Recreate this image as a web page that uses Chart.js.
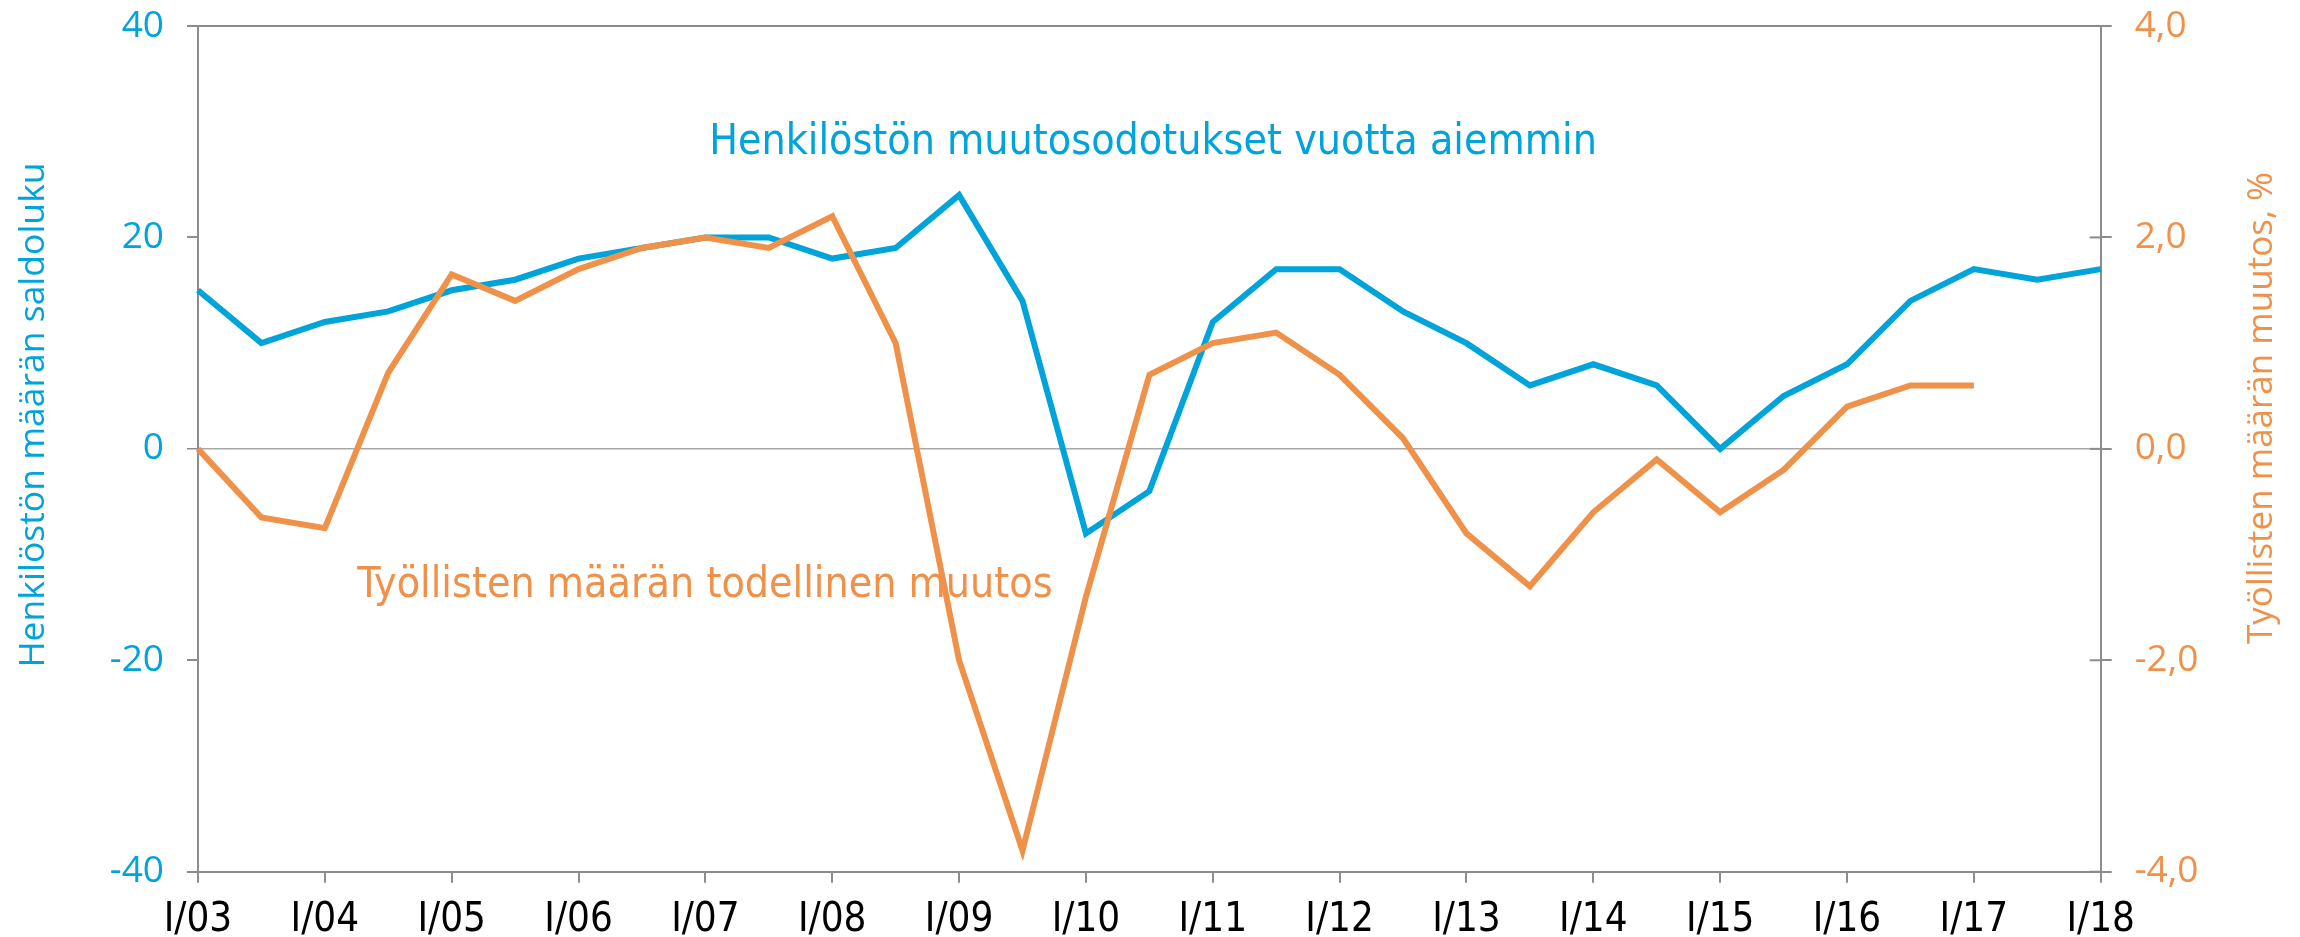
<!DOCTYPE html>
<html>
<head>
<meta charset="utf-8">
<script src="https://cdn.jsdelivr.net/npm/chart.js@4/dist/chart.umd.min.js"></script>
<style>
  html, body { margin: 0; padding: 0; background: #ffffff; }
  #wrap { width: 2300px; height: 937px; position: relative; }
  canvas { display: block; }
</style>
</head>
<body>
<div id="wrap"><canvas id="c" width="2300" height="937"></canvas></div>
<script>
// ---- data ----
const periods = [
  'I/03','II/03','I/04','II/04','I/05','II/05','I/06','II/06','I/07','II/07',
  'I/08','II/08','I/09','II/09','I/10','II/10','I/11','II/11','I/12','II/12',
  'I/13','II/13','I/14','II/14','I/15','II/15','I/16','II/16','I/17','II/17','I/18'
];
// Henkilöstön muutosodotukset vuotta aiemmin (saldoluku, left axis)
const expectations = [
  15, 10, 12, 13, 15, 16, 18, 19, 20, 20,
  18, 19, 24, 14, -8, -4, 12, 17, 17, 13,
  10, 6, 8, 6, 0, 5, 8, 14, 17, 16, 17
];
// Työllisten määrän todellinen muutos (%, right axis)
const actualChange = [
  0.0, -0.65, -0.75, 0.72, 1.65, 1.4, 1.7, 1.9, 2.0, 1.9,
  2.2, 1.0, -2.0, -3.8, -1.4, 0.7, 1.0, 1.1, 0.7, 0.1,
  -0.8, -1.3, -0.6, -0.1, -0.6, -0.2, 0.4, 0.6, 0.6, null, null
];
const leftTitle = 'Henkilöstön määrän saldoluku';
const rightTitle = 'Työllisten määrän muutos, %';
const blueLabel = 'Henkilöstön muutosodotukset vuotta aiemmin';
const orangeLabel = 'Työllisten määrän todellinen muutos';

// ---- styles ----
const BLUE = '#00A3DA';
const ORANGE = '#F0914A';
const AXIS = '#8C8C8C';
const ZERO = '#A8A8A8';

const overlay = {
  id: 'overlay',
  afterDatasetsDraw(chart) {
    const ctx = chart.ctx;
    const a = chart.chartArea;
    ctx.save();
    // inner part of right-axis ticks (they cross the axis)
    const yR = chart.scales.yR;
    ctx.strokeStyle = AXIS;
    ctx.lineWidth = 2;
    yR.ticks.forEach((t, i) => {
      const y = yR.getPixelForTick(i);
      ctx.beginPath();
      ctx.moveTo(a.right - 11, y);
      ctx.lineTo(a.right, y);
      ctx.stroke();
    });
    // annotations
    ctx.textAlign = 'center';
    ctx.textBaseline = 'alphabetic';
    ctx.font = '42.5px "DejaVu Sans Condensed", "DejaVu Sans", sans-serif';
    ctx.fillStyle = BLUE;
    ctx.fillText(blueLabel, 1153, 154);
    ctx.fillStyle = ORANGE;
    ctx.fillText(orangeLabel, 705, 597);
    // axis titles, both read bottom-to-top
    ctx.fillStyle = BLUE;
    ctx.font = '35.5px "Open Sans", sans-serif';
    ctx.save();
    ctx.translate(44, 415);
    ctx.rotate(-Math.PI / 2);
    ctx.fillText(leftTitle, 0, 0);
    ctx.restore();
    ctx.fillStyle = ORANGE;
    ctx.font = '35px "Open Sans", sans-serif';
    ctx.save();
    ctx.translate(2272, 408);
    ctx.rotate(-Math.PI / 2);
    ctx.fillText(rightTitle, 0, 0);
    ctx.restore();
    ctx.restore();
  }
};

new Chart(document.getElementById('c'), {
  type: 'line',
  data: {
    labels: periods,
    datasets: [
      {
        label: orangeLabel,
        data: actualChange,
        yAxisID: 'yR',
        borderColor: ORANGE,
        backgroundColor: ORANGE,
        borderWidth: 6,
        pointRadius: 0,
        tension: 0,
        spanGaps: false
      },
      {
        label: blueLabel,
        data: expectations,
        yAxisID: 'yL',
        borderColor: BLUE,
        backgroundColor: BLUE,
        borderWidth: 6,
        pointRadius: 0,
        tension: 0
      }
    ]
  },
  options: {
    responsive: false,
    animation: false,
    devicePixelRatio: 1,
    layout: { padding: { top: 26, bottom: 0, left: 0, right: 0 } },
    plugins: { legend: { display: false }, tooltip: { enabled: false } },
    elements: { line: { borderJoinStyle: 'miter', borderCapStyle: 'butt' } },
    scales: {
      x: {
        type: 'category',
        offset: false,
        border: { display: true, color: AXIS, width: 2 },
        grid: { drawOnChartArea: false, drawTicks: true, tickLength: 11, color: AXIS, tickColor: AXIS, lineWidth: 2 },
        ticks: {
          autoSkip: false,
          maxRotation: 0,
          padding: 14,
          color: '#000000',
          font: { family: '"DejaVu Sans Condensed", "DejaVu Sans", sans-serif', size: 40 },
          callback: function (v, i) { return i % 2 === 0 ? periods[i] : null; }
        },
        afterFit: function (s) { s.height = 65.3; s.paddingLeft = 0; s.paddingRight = 0; }
      },
      yL: {
        position: 'left',
        min: -40, max: 40,
        border: { display: true, color: AXIS, width: 2 },
        grid: {
          drawOnChartArea: true,
          drawTicks: true,
          tickLength: 11,
          color: function (c) { return c.tick && c.tick.value === 0 ? ZERO : (c.tick && c.tick.value === 40 ? AXIS : 'rgba(0,0,0,0)'); },
          lineWidth: function (c) { return c.tick && c.tick.value === 0 ? 1.5 : 2; },
          tickColor: AXIS
        },
        ticks: {
          stepSize: 20,
          padding: 23,
          color: BLUE,
          font: { family: '"Open Sans", sans-serif', size: 37 }
        },
        afterFit: function (s) { s.width = 198; s.paddingTop = 0; s.paddingBottom = 0; }
      },
      yR: {
        position: 'right',
        min: -4, max: 4,
        border: { display: true, color: AXIS, width: 2 },
        grid: { drawOnChartArea: false, drawTicks: true, tickLength: 11, tickColor: AXIS, color: AXIS, lineWidth: 2 },
        ticks: {
          stepSize: 2,
          padding: 23,
          color: ORANGE,
          font: { family: '"Open Sans", sans-serif', size: 37 },
          callback: function (v) { return v.toFixed(1).replace('.', ','); }
        },
        afterFit: function (s) { s.width = 199.3; s.paddingTop = 0; s.paddingBottom = 0; }
      }
    }
  },
  plugins: [overlay]
});
</script>
</body>
</html>
